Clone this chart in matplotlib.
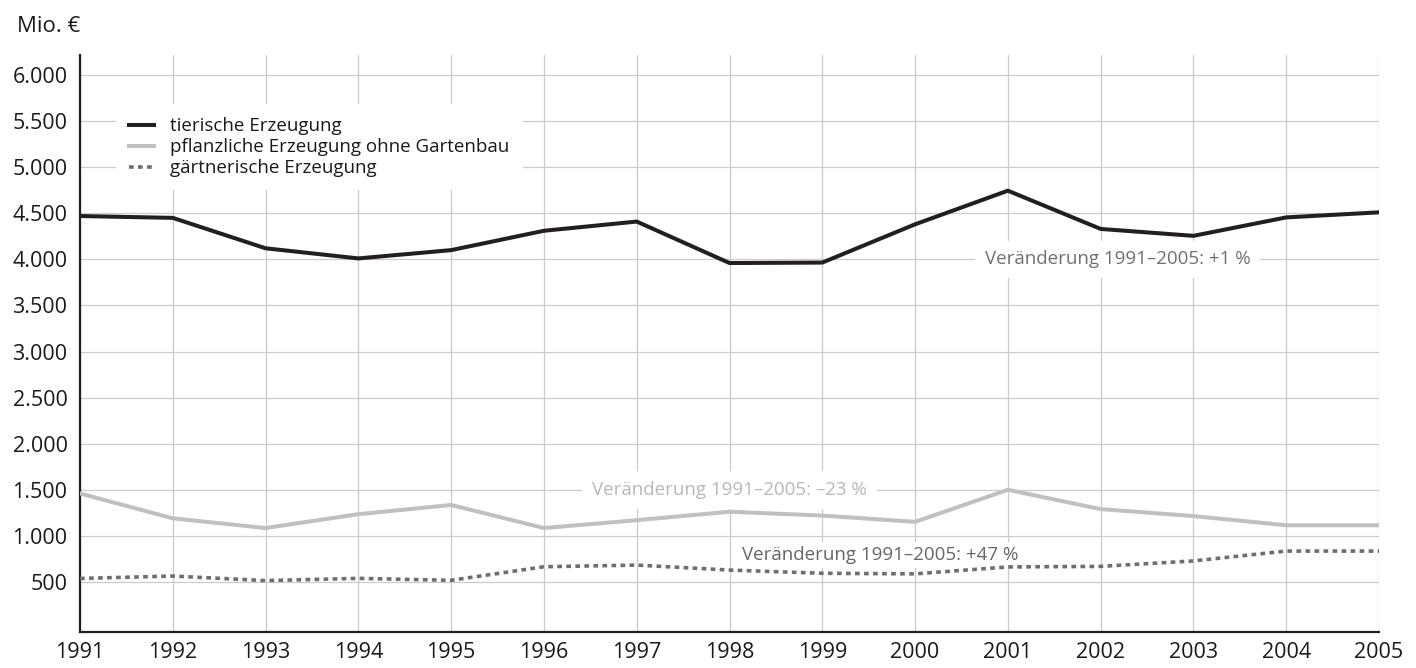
import matplotlib.pyplot as plt
from matplotlib.lines import Line2D

plt.rcParams['font.family'] = ['Open Sans', 'DejaVu Sans']

# Data (Mio. €)
years = list(range(1991, 2006))
tierisch = [4470, 4450, 4120, 4010, 4100, 4310, 4410, 3960, 3965, 4380,
            4745, 4330, 4255, 4455, 4510]
pflanzlich = [1460, 1190, 1085, 1235, 1335, 1085, 1170, 1262, 1220, 1152,
              1500, 1290, 1215, 1115, 1115]
gaertnerisch = [538, 564, 515, 539, 518, 665, 683, 629, 594, 588,
                663, 669, 728, 835, 835]

series_labels = ["tierische Erzeugung",
                 "pflanzliche Erzeugung ohne Gartenbau",
                 "gärtnerische Erzeugung"]
change_labels = ["Veränderung 1991–2005: +1 %",
                 "Veränderung 1991–2005: –23 %",
                 "Veränderung 1991–2005: +47 %"]

y_ticks = [500, 1000, 1500, 2000, 2500, 3000, 3500, 4000, 4500, 5000, 5500, 6000]
y_labels = ["500", "1.000", "1.500", "2.000", "2.500", "3.000", "3.500",
            "4.000", "4.500", "5.000", "5.500", "6.000"]

c_black = '#231f20'
c_light = '#c0c0c2'
c_dot = '#6d6e70'
c_grid = '#cbcbcb'
fs = 13.5

fig = plt.figure(figsize=(14.16, 6.68), dpi=100)
ax = fig.add_axes([80 / 1416, 1 - 632 / 668, 1299 / 1416, 577 / 668])

ax.plot(years, tierisch, color=c_black, lw=2.9, zorder=3)
ax.plot(years, pflanzlich, color=c_light, lw=2.9, zorder=3)
ax.plot(years, gaertnerisch, color=c_dot, lw=2.6, linestyle=(0, (1.3, 1.2)),
        zorder=3)

ax.set_xlim(1991, 2005)
ax.set_ylim(-43, 6217)
ax.set_xticks(years)
ax.set_xticklabels([str(y) for y in years])
ax.set_yticks(y_ticks)
ax.set_yticklabels(y_labels)
ax.tick_params(length=0, labelsize=15.5, colors='#1a1a1a')
ax.tick_params(axis='y', pad=9)
ax.tick_params(axis='x', pad=7)

ax.grid(True, color=c_grid, lw=0.9)
ax.set_axisbelow(True)
for s in ['top', 'right']:
    ax.spines[s].set_visible(False)
for s in ['left', 'bottom']:
    ax.spines[s].set_color(c_black)
    ax.spines[s].set_linewidth(1.6)

# change annotations with white boxes breaking the grid
box = dict(facecolor='white', edgecolor='none', pad=7)
ax.text(2002.18, 4000, change_labels[0], color='#707070', fontsize=fs,
        ha='center', va='center', bbox=box, zorder=2.5)
ax.text(1998.0, 1500, change_labels[1], color='#b8b8ba', fontsize=fs,
        ha='center', va='center', bbox=box, zorder=2.5)
ax.text(1999.62, 790, change_labels[2], color='#666666', fontsize=fs,
        ha='center', va='center', bbox=dict(facecolor='white', edgecolor='none', pad=3),
        zorder=2.5)

handles = [Line2D([], [], color=c_black, lw=2.9),
           Line2D([], [], color=c_light, lw=2.9),
           Line2D([], [], color=c_dot, lw=2.6, linestyle=(0, (1.3, 1.2)))]
leg = fig.legend(handles, series_labels, loc='upper left',
                 bbox_to_anchor=(116 / 1416, 1 - 104 / 668),
                 frameon=True, facecolor='white', edgecolor='none', framealpha=1,
                 fancybox=False, fontsize=fs, handlelength=1.35,
                 handletextpad=0.85, labelspacing=0.16, borderpad=0.7,
                 borderaxespad=0)
for t in leg.get_texts():
    t.set_color('#1a1a1a')

fig.text(17 / 1416, 1 - 32 / 668, "Mio. €", fontsize=16, va='baseline',
         ha='left', color='#1a1a1a')

fig.savefig('out.png', dpi=100)
